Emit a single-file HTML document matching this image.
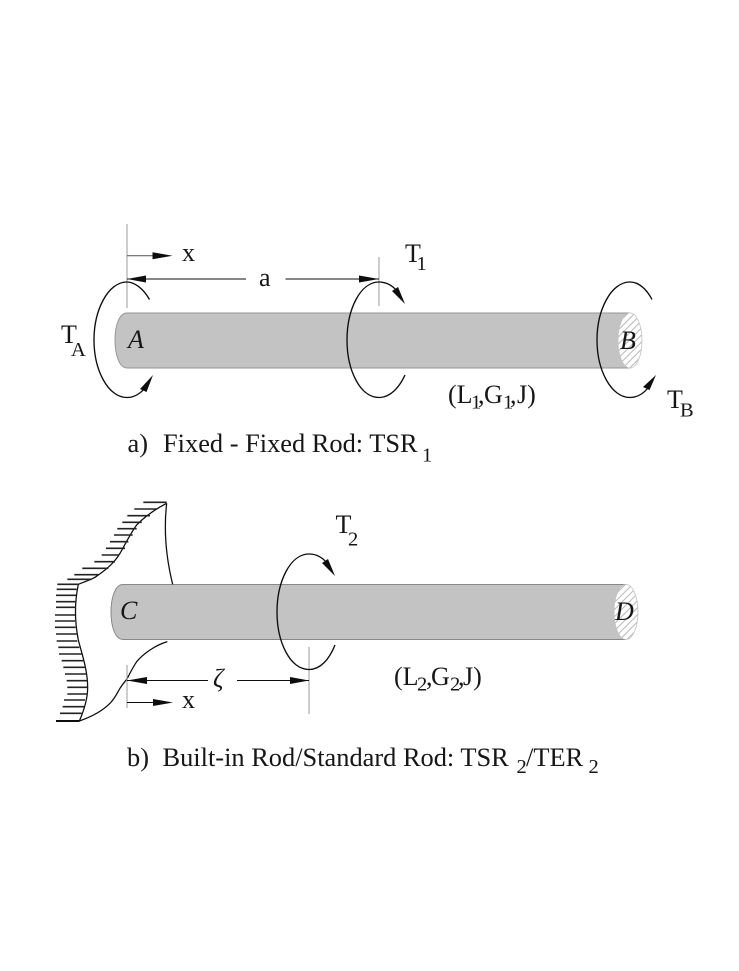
<!DOCTYPE html>
<html>
<head>
<meta charset="utf-8">
<style>
html,body{margin:0;padding:0;background:#fff;width:739px;height:971px;overflow:hidden}
svg{display:block}
text{font-family:"Liberation Serif",serif;fill:#161616;font-size:26px}
.i{font-style:italic}
.c{font-size:26.4px}
.u{font-size:20.5px}
.s{stroke:#111;fill:none;stroke-width:1.35}
.g{stroke:#a4a4a4;fill:none;stroke-width:1.1}
.h{fill:#0a0a0a;stroke:none}
</style>
</head>
<body>
<svg width="739" height="971" viewBox="0 0 739 971" xmlns="http://www.w3.org/2000/svg">
<defs>
<pattern id="hatch" width="5" height="5" patternUnits="userSpaceOnUse" patternTransform="rotate(-45)">
<rect width="5" height="5" fill="#fff"/>
<rect width="5" height="1" fill="#b8b8b8"/>
</pattern>
<filter id="b" x="-5%" y="-5%" width="110%" height="110%"><feGaussianBlur stdDeviation="0.3"/></filter>
<filter id="t" x="-5%" y="-5%" width="110%" height="110%"><feGaussianBlur stdDeviation="0.25"/></filter>
</defs>
<g filter="url(#b)">
<!-- Rod a -->
<path d="M630 313H127C119 313 115 326 115 340C115 354 119 368 127 368H630Z" fill="#c3c3c3" stroke="#969696" stroke-width="1"/>
<ellipse cx="630" cy="340.500" rx="12" ry="27.500" fill="url(#hatch)" stroke="#c4c4c4" stroke-width=".8"/>
<!-- Rod b -->
<path d="M626 584.500H123C115 584.500 111 598 111 612C111 626 115 639.500 123 639.500H626Z" fill="#c3c3c3" stroke="#888" stroke-width="1"/>
<ellipse cx="626" cy="612" rx="12" ry="27.500" fill="url(#hatch)" stroke="#c4c4c4" stroke-width=".8"/>

<!-- Figure a lines -->
<path class="g" d="M127 224V308M379 257V306"/>
<path class="g" d="M127 255.700H155" style="stroke:#666"/>
<path class="h" d="M172.500 255.700L152.500 252.200V259.200Z"/>
<path class="s" d="M127 279H246M285.500 279H379" style="stroke-width:1"/>
<path class="h" d="M127 279L146 275.500V282.500Z"/>
<path class="h" d="M379 279L359 275.500V282.500Z"/>

<!-- Torque A -->
<path class="s" d="M149.500 299.500C143 288 134 282 127 282C108 282 94 310 94 340C94 370 108 397.500 127 397.500C135 397.500 141 393 146 387"/>
<path class="h" d="M153 375L140 389L146.500 392Z"/>
<!-- Torque 1 -->
<path class="s" d="M397 291C392 285 386 282 379 282C360 282 347 310 347 340C347 370 360 397.500 379 397.500C390 397.500 399 388 405 375"/>
<path class="h" d="M405 304L392 291L398 287Z"/>
<!-- Torque B -->
<path class="s" d="M652 299.500C646 288 638 282 630 282C611 282 597 310 597 340C597 370 611 397.500 630 397.500C637 397.500 643 394 648 388"/>
<path class="h" d="M656 375L643 387L649.500 390Z"/>

<!-- Figure b, drawn in zoom coordinates -->
<g transform="translate(40 490) scale(.33333)">
<path fill="none" stroke="#111" stroke-width="3.800" d="M380 40C345 58 312 82 290 105C270 132 255 165 240 190C225 215 205 235 165 262C150 270 130 277 115 283C103 340 105 400 115 450C125 490 143 540 143 592C143 630 128 670 118 693C150 682 185 665 210 640C225 625 232 608 240 595C248 582 255 575 262 565C272 545 280 530 290 515C300 503 315 490 330 480C345 470 365 460 382 455M380 40C372 110 375 190 398 283"/>
<path fill="none" stroke="#222" stroke-width="4.800" d="M310 37H380M283 57H350M262 77H330M247 97H305M232 116H290M222 135H278M210 155H265M198 175H255M185 195H238M163 215H225M127 235H205M103 254H175M82 268H155M52 283H115M50 298H110M48 316H108M48 335H108M48 352H108M45 375H105M45 393H105M45 412H107M48 432H110M50 453H112M55 472H118M57 492H125M65 512H132M70 532H137M75 552H140M80 572H142M82 592H142M82 612H140M72 630H135M68 650H132M60 670H125"/>
<path fill="none" stroke="#111" stroke-width="6" d="M48 693H118"/>
</g>
<path class="g" d="M127 665V708M309 647V714"/>
<path class="s" d="M127 680.500H208M237 680.500H309" style="stroke-width:1"/>
<path class="h" d="M127 680.500L147 677V684Z"/>
<path class="h" d="M309 680.500L290 677V684Z"/>
<path class="s" d="M127 702.500H155" style="stroke-width:1"/>
<path class="h" d="M173 702.500L153 699V706Z"/>

<!-- Torque 2 -->
<path class="s" d="M327 563C322 557 316 554 309 554C290 554 277 582 277 612C277 642 290 669.500 309 669.500C320 669.500 329 660 335 645"/>
<path class="h" d="M335 576L322 563L328 559Z"/>
</g>

<!-- Labels -->
<g filter="url(#t)">
<text x="182" y="261">x</text>
<text x="259" y="286">a</text>
<text y="262"><tspan x="405">T</tspan><tspan class="u" x="416.500" y="270">1</tspan></text>
<text y="343"><tspan x="61">T</tspan><tspan class="u" x="71" y="356">A</tspan></text>
<text x="128" y="348" class="i">A</text>
<text x="620" y="349" class="i">B</text>
<text y="403"><tspan x="448">(L</tspan><tspan class="u" x="471" y="408.500">1</tspan><tspan x="478" y="403">,</tspan><tspan x="484">G</tspan><tspan class="u" x="503" y="408.500">1</tspan><tspan x="510" y="403">,</tspan><tspan x="517">J)</tspan></text>
<text y="408"><tspan x="667">T</tspan><tspan class="u" x="680" y="416.500">B</tspan></text>
<text class="c" y="452"><tspan x="127.500">a)</tspan><tspan x="163">Fixed - Fixed Rod: TSR</tspan><tspan class="u" x="422" y="461.500">1</tspan></text>

<text y="533"><tspan x="335.500">T</tspan><tspan class="u" x="348" y="545.500">2</tspan></text>
<text x="120" y="619" class="i">C</text>
<text x="615" y="620" class="i">D</text>
<text x="213" y="687" class="i">ζ</text>
<text x="182" y="708">x</text>
<text y="685"><tspan x="394">(L</tspan><tspan class="u" x="417" y="690.500">2</tspan><tspan x="426" y="685">,</tspan><tspan x="431">G</tspan><tspan class="u" x="450" y="690.500">2</tspan><tspan x="458" y="685">,</tspan><tspan x="463">J)</tspan></text>
<text class="c" y="766"><tspan x="127">b)</tspan><tspan x="162.500">Built-in Rod/Standard Rod: TSR</tspan><tspan class="u" x="516.500" y="773">2</tspan><tspan x="526" y="766">/TER</tspan><tspan class="u" x="588.500" y="773">2</tspan></text>
</g>
</svg>
</body>
</html>
